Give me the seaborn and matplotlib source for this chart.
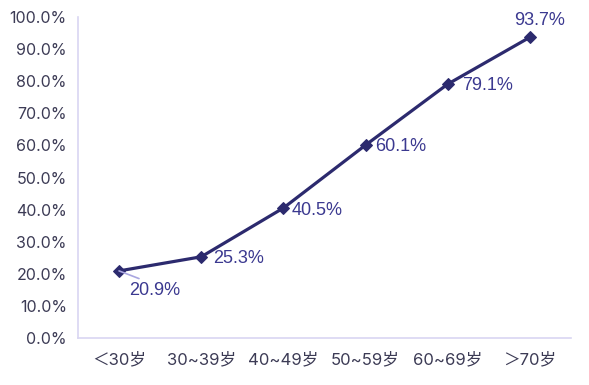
import matplotlib
matplotlib.use("Agg")
import matplotlib.pyplot as plt
import seaborn as sns
import pandas as pd
from matplotlib.ticker import FuncFormatter

# Data
age_groups = ["＜30岁", "30~39岁", "40~49岁", "50~59岁", "60~69岁", "＞70岁"]
rates = [20.9, 25.3, 40.5, 60.1, 79.1, 93.7]

sns.set_style("white")
plt.rcParams['font.family'] = ['Liberation Sans', 'Noto Sans CJK SC', 'DejaVu Sans']
tick_family = ['Inter', 'Noto Sans CJK SC', 'DejaVu Sans']

line_color = "#2c2a6e"
label_color = "#3b3990"
spine_color = "#d9d6f2"

fig = plt.figure(figsize=(5.89, 3.85), dpi=100)
ax = fig.add_axes([0.1324, 0.1221, 0.8370, 0.8337])

df = pd.DataFrame({"x": range(len(age_groups)), "rate": rates})
sns.lineplot(data=df, x="x", y="rate", ax=ax, color=line_color, linewidth=2.3,
             marker="D", markersize=6, markeredgecolor=line_color)

# Data labels (offsets in points)
offsets = [(26, -14), (27, -1), (24, -1.5), (25, -1), (29, -1), (7, 12)]
for i, (v, off) in enumerate(zip(rates, offsets)):
    if i == 0:
        ax.annotate(f"{v:.1f}%", xy=(i, v), xytext=off, textcoords="offset points",
                    ha="center", va="center", fontsize=13, color=label_color,
                    arrowprops=dict(arrowstyle="-", color="#a9a6e0", lw=1.2,
                                    shrinkA=0, shrinkB=0, relpos=(0.35, 1.0)))
    else:
        ax.annotate(f"{v:.1f}%", xy=(i, v), xytext=off, textcoords="offset points",
                    ha="center", va="center", fontsize=13, color=label_color)

ax.set_xlim(-0.5, len(age_groups) - 0.5)
ax.set_ylim(0, 100)
ax.set_yticks(range(0, 101, 10))
ax.yaxis.set_major_formatter(FuncFormatter(lambda v, p: f"{v:.1f}%"))
ax.set_xticks(range(len(age_groups)))
ax.set_xticklabels(age_groups)
ax.set_xlabel("")
ax.set_ylabel("")
ax.tick_params(axis="both", length=0, labelcolor="#3c3b55")
ax.tick_params(axis="x", pad=10)
ax.tick_params(axis="y", pad=8)
for t in ax.get_yticklabels():
    t.set_family(tick_family)
    t.set_fontsize(11.5)
for t in ax.get_xticklabels():
    t.set_family(tick_family)
    t.set_fontsize(12)

for s in ["top", "right"]:
    ax.spines[s].set_visible(False)
for s in ["left", "bottom"]:
    ax.spines[s].set_color(spine_color)
    ax.spines[s].set_linewidth(1.2)

fig.savefig("out.png", dpi=100)
